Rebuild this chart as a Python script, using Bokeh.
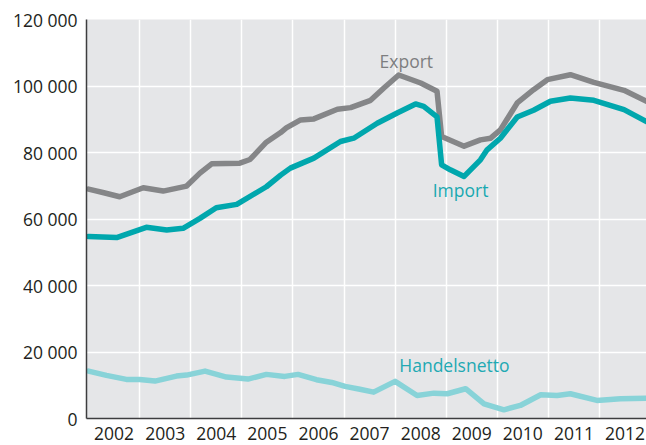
from bokeh.plotting import figure
from bokeh.models import FixedTicker, Label, Range1d
from bokeh.embed import file_html
from bokeh.resources import INLINE

# ---- data ----
export_x = [2002.0, 2002.3, 2002.61, 2003.07, 2003.46, 2003.92, 2004.18, 2004.41, 2004.96,
            2005.16, 2005.48, 2005.76, 2005.87, 2006.15, 2006.41, 2006.87, 2007.13, 2007.52,
            2007.78, 2008.07, 2008.5, 2008.82, 2008.91, 2009.35, 2009.67, 2009.87, 2010.06,
            2010.39, 2010.71, 2010.98, 2011.43, 2011.89, 2012.48, 2012.92]
export_y = [69000, 67900, 66700, 69400, 68400, 69900, 73800, 76600, 76800,
            77900, 83100, 86000, 87400, 89800, 90100, 93000, 93500, 95700,
            99400, 103300, 100900, 98400, 84800, 81900, 83800, 84300, 86800,
            94900, 98900, 101900, 103400, 101100, 98700, 95400]

import_x = [2002.0, 2002.55, 2003.13, 2003.53, 2003.85, 2004.18, 2004.5, 2004.9, 2005.48,
            2005.76, 2005.95, 2006.41, 2006.93, 2007.19, 2007.65, 2008.04, 2008.4, 2008.56,
            2008.82, 2008.91, 2009.08, 2009.35, 2009.67, 2009.8, 2010.06, 2010.39, 2010.71,
            2011.04, 2011.43, 2011.89, 2012.48, 2012.92]
import_y = [54700, 54400, 57500, 56700, 57200, 60200, 63400, 64400, 69700,
            73200, 75300, 78300, 83300, 84300, 88800, 91900, 94600, 93900,
            90700, 76300, 74800, 72800, 77800, 80800, 84300, 90700, 92700,
            95400, 96400, 95700, 92900, 89300]

netto_x = [2002.0, 2002.35, 2002.74, 2003.0, 2003.3, 2003.72, 2003.92, 2004.28, 2004.7,
           2005.12, 2005.48, 2005.84, 2006.1, 2006.46, 2006.76, 2007.02, 2007.31, 2007.58,
           2008.0, 2008.43, 2008.76, 2009.02, 2009.38, 2009.74, 2010.13, 2010.45, 2010.85,
           2011.17, 2011.43, 2011.95, 2012.41, 2012.92]
netto_y = [14260, 12960, 11760, 11760, 11250, 12760, 13060, 14260, 12460,
           11850, 13270, 12660, 13270, 11670, 10850, 9650, 8800, 7930,
           11160, 6930, 7630, 7440, 8950, 4430, 2620, 3920, 7140,
           6930, 7440, 5430, 5930, 6120]

y_ticks = [0, 20000, 40000, 60000, 80000, 100000, 120000]
y_labels = ["0", "20 000", "40 000", "60 000", "80 000", "100 000", "120 000"]
years = [2002, 2003, 2004, 2005, 2006, 2007, 2008, 2009, 2010, 2011, 2012]
year_labels = [str(y) for y in years]

FONT = "Open Sans"
TXT = "#231f20"

p = figure(width=646, height=445, output_backend="svg", toolbar_location=None,
           x_range=Range1d(2001.96, 2012.92), y_range=Range1d(0, 120000),
           min_border_left=86, min_border_right=0, min_border_top=19, min_border_bottom=27)
p.background_fill_color = "#e5e6e8"
p.border_fill_color = "white"
p.outline_line_color = None

# y axis
p.yaxis.ticker = FixedTicker(ticks=y_ticks)
p.yaxis.major_label_overrides = {t: l for t, l in zip(y_ticks, y_labels)}
# x axis: labels centred in each year, grid at year boundaries
mids = [y + 0.5 for y in years]
p.xaxis.ticker = FixedTicker(ticks=mids)
p.xaxis.major_label_overrides = {m: l for m, l in zip(mids, year_labels)}
p.xgrid.ticker = FixedTicker(ticks=[y + 1 for y in years])

for ax in (p.xaxis, p.yaxis):
    ax.axis_line_color = "#3d3d3f"
    ax.axis_line_width = 1.5
    ax.major_tick_line_color = None
    ax.minor_tick_line_color = None
    ax.major_tick_in = 0
    ax.major_tick_out = 0
    ax.major_label_text_font = FONT
    ax.major_label_text_font_size = "17.5px"
    ax.major_label_text_color = TXT
p.yaxis.major_label_standoff = 9
p.xaxis.major_label_standoff = 8

p.xgrid.grid_line_color = "white"
p.xgrid.grid_line_width = 1.5
p.ygrid.grid_line_color = "white"
p.ygrid.grid_line_width = 1.5

p.line(netto_x, netto_y, line_color="#88d3d8", line_width=5.5, line_join="round", line_cap="round")
p.line(export_x, export_y, line_color="#858688", line_width=5.5, line_join="round", line_cap="round")
p.line(import_x, import_y, line_color="#00a7ad", line_width=5.5, line_join="round", line_cap="round")

for txt, x, y, col in [("Export", 2008.22, 107400, "#7d7e80"),
                       ("Import", 2009.28, 68700, "#18a9b1"),
                       ("Handelsnetto", 2009.16, 15980, "#22a9b3")]:
    p.add_layout(Label(x=x, y=y, text=txt, text_font=FONT, text_font_size="17.5px",
                       text_color=col, text_align="center", text_baseline="middle"))

open("out.html", "w").write(file_html(p, INLINE))
